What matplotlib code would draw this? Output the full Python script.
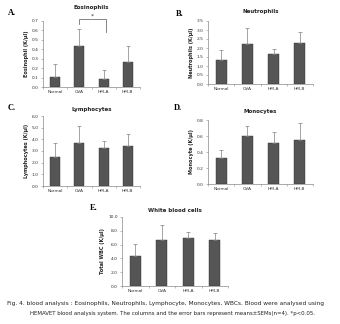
import numpy as np
import matplotlib
matplotlib.use("Agg")
import matplotlib.pyplot as plt

# Group names on the x axis
groups = ["Normal", "OVA", "HM-A", "HM-B"]

# Means and SEMs, one pair per panel
eos_mean = [0.11, 0.43, 0.09, 0.27]
eos_sem = [0.13, 0.19, 0.09, 0.16]

neu_mean = [1.36, 2.25, 1.64, 2.28]
neu_sem = [0.52, 0.88, 0.29, 0.61]

lym_mean = [2.51, 3.69, 3.29, 3.43]
lym_sem = [1.20, 1.45, 0.60, 1.03]

mon_mean = [0.33, 0.60, 0.51, 0.55]
mon_sem = [0.095, 0.125, 0.145, 0.21]

wbc_mean = [4.37, 6.73, 6.97, 6.63]
wbc_sem = [1.69, 2.12, 0.87, 1.11]

caption_1 = ("Fig. 4. blood analysis : Eosinophils, Neutrophils, Lymphocyte, Monocytes, "
             "WBCs. Blood were analysed using")
caption_2 = ("HEMAVET blood analysis system. The columns and the error bars represent "
             "means\u00b1SEMs(n=4). *p<0.05.")

W, H = 340, 324
fig = plt.figure(figsize=(W / 100, H / 100), dpi=100)
fig.patch.set_facecolor("white")


def px_axes(left, top, right, bottom):
    # turn pixel edges into a figure-fraction rectangle
    return fig.add_axes([left / W, 1 - bottom / H, (right - left) / W, (bottom - top) / H])


def bar_panel(ax, means, sems, ymax, step, title, title_y, ylabel, letter, letter_xy):
    x = np.arange(len(groups))
    ax.bar(x, means, width=0.42, color="#555555", edgecolor="#333333", linewidth=0.3, zorder=2)
    ax.errorbar(x, means, yerr=[np.zeros(len(sems)), sems], fmt="none",
                ecolor="#808080", elinewidth=0.5, capsize=1.2, capthick=0.5, zorder=3)
    ax.set_xlim(-0.5, len(groups) - 0.5)
    ax.set_ylim(0, ymax)
    ticks = np.arange(0, ymax + step / 2, step)
    ax.set_yticks(ticks)
    ax.set_yticklabels([f"{t:.1f}" for t in ticks], fontsize=3.2, color="#333333")
    # excel style: category ticks sit between the groups
    ax.set_xticks(np.arange(-0.5, len(groups)))
    ax.set_xticklabels([])
    ax.tick_params(axis="x", length=1.5, width=0.4, direction="out", color="#888888")
    ax.tick_params(axis="y", length=1.5, width=0.4, direction="out", color="#888888", pad=1.5)
    for i, g in enumerate(groups):
        ax.text(i, -0.05, g, transform=ax.get_xaxis_transform(), ha="center", va="top",
                fontsize=3.2, color="#333333")
    for side in ["top", "right"]:
        ax.spines[side].set_visible(False)
    for side in ["left", "bottom"]:
        ax.spines[side].set_linewidth(0.5)
        ax.spines[side].set_color("#888888")
    box = ax.get_position()
    fig.text(box.x0 + box.width / 2, 1 - title_y / H, title, fontsize=4, fontweight="bold",
             ha="center", va="center", color="#222222")
    ax.set_ylabel(ylabel, fontsize=3.6, fontweight="bold", labelpad=2, color="#222222")
    fig.text(letter_xy[0] / W, 1 - letter_xy[1] / H, letter, fontsize=6, fontweight="bold",
             family="Liberation Serif", ha="left", va="center")


ax_a = px_axes(43, 21, 140, 87)
bar_panel(ax_a, eos_mean, eos_sem, 0.7, 0.1, "Eosinophils", 8, "Eosinophil (K/\u00b5l)", "A.", (8, 13))
# significance bracket OVA vs HM-A
ax_a.plot([1, 1, 2.1, 2.1], [0.665, 0.72, 0.72, 0.585], color="#555555", lw=0.5, clip_on=False)
ax_a.text(1.55, 0.725, "*", ha="center", va="bottom", fontsize=4.5, color="#333333")

ax_b = px_axes(208, 21, 313, 84)
bar_panel(ax_b, neu_mean, neu_sem, 3.5, 0.5, "Neutrophils", 12, "Neutrophils (K/\u00b5l)", "B.", (176, 14))

ax_c = px_axes(43, 116, 140, 186)
bar_panel(ax_c, lym_mean, lym_sem, 6.0, 1.0, "Lymphocytes", 110, "Lymphocytes (K/\u00b5l)", "C.", (8, 108))

ax_d = px_axes(208, 120, 313, 184)
bar_panel(ax_d, mon_mean, mon_sem, 0.8, 0.2, "Monocytes", 111, "Monocyte (K/\u00b5l)", "D.", (174, 108))

ax_e = px_axes(122, 217, 228, 286)
bar_panel(ax_e, wbc_mean, wbc_sem, 10.0, 2.0, "White blood cells", 210, "Total WBC (K/\u00b5l)", "E.", (90, 208))

# caption under the figure
fig.text(7 / W, 1 - 303 / H, caption_1, fontsize=4.2, ha="left", va="center", color="#222222")
fig.text(172 / W, 1 - 314 / H, caption_2, fontsize=3.9, ha="center", va="center", color="#222222")

fig.savefig("out.png", dpi=100, facecolor="white")
